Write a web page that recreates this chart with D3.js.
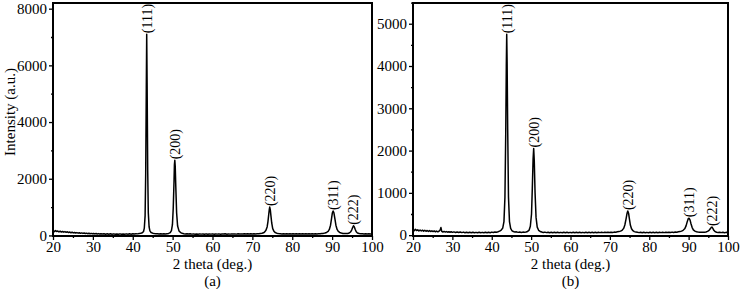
<!DOCTYPE html>
<html>
<head>
<meta charset="utf-8">
<title>XRD patterns</title>
<script src="https://d3js.org/d3.v7.min.js"></script>
<style>
  body { margin: 0; background: #fff; }
  svg text { font-family: "Liberation Serif", "Times New Roman", serif; fill: #000; }
  .trace { fill: none; stroke: #000; stroke-width: 1.5px; stroke-linejoin: round; }
  .frame { fill: none; stroke: #000; stroke-width: 2px; }
  .axis path { display: none; }
  .axis line { stroke: #000; stroke-width: 1.3px; }
</style>
</head>
<body>
<svg width="741" height="289"></svg>
<script>
// ---- data ----
const patternA = [
  [20,160],[20.3,130],[20.6,170],[20.9,140],[21.2,155],[21.5,125],[21.8,150],[22.1,120],[22.4,140],[22.7,115],
  [23,135],[23.3,110],[23.6,128],[23.9,100],[24.2,120],[24.5,95],[24.8,112],[25.1,90],[25.4,105],[25.7,85],
  [26,100],[26.3,80],[26.6,95],[26.9,75],[27.2,90],[27.5,72],[27.8,85],[28.1,68],[28.4,80],[28.7,62],
  [29,78],[29.3,60],[29.6,72],[29.9,58],[30.2,70],[30.5,55],[30.8,68],[31.1,52],[31.4,64],[31.7,50],
  [32,62],[32.4,48],[32.8,60],[33.2,45],[33.6,58],[34,44],[34.4,56],[34.8,42],[35.2,55],[35.6,40],
  [36,54],[36.4,42],[36.8,55],[37.2,40],[37.6,52],[38,42],[38.4,55],[38.8,44],[39.2,56],[39.6,45],
  [40,58],[40.4,48],[40.8,60],[41.2,55],[41.6,66],[42,75],[42.4,95],[42.7,140],[42.9,260],[43.1,700],
  [43.25,2200],[43.4,5200],[43.5,7100],[43.6,5400],[43.75,2300],[43.9,800],[44.1,300],[44.3,160],[44.6,105],[45,80],
  [45.4,68],[45.8,58],[46.2,62],[46.6,52],[47,58],[47.4,50],[47.8,56],[48.2,52],[48.6,62],[49,72],
  [49.4,100],[49.7,170],[49.95,380],[50.15,950],[50.35,1900],[50.45,2500],[50.55,2650],[50.65,2450],[50.8,1700],[51,800],
  [51.25,330],[51.6,160],[52,100],[52.4,75],[52.8,62],[53.2,52],[53.6,58],[54,48],[54.4,56],[54.8,46],
  [55.2,55],[55.6,45],[56,54],[56.4,44],[56.8,55],[57.2,46],[57.6,53],[58,44],[58.4,55],[58.8,45],
  [59.2,54],[59.6,46],[60,55],[60.4,44],[60.8,53],[61.2,46],[61.6,55],[62,45],[62.4,54],[62.8,47],
  [63.2,56],[63.6,45],[64,53],[64.4,46],[64.8,55],[65.2,47],[65.6,54],[66,46],[66.4,56],[66.8,47],
  [67.2,55],[67.6,48],[68,56],[68.4,47],[68.8,57],[69.2,49],[69.6,56],[70,50],[70.4,58],[70.8,52],
  [71.2,60],[71.6,58],[72,66],[72.4,75],[72.8,92],[73.1,125],[73.4,180],[73.7,300],[73.9,480],[74.1,740],
  [74.25,920],[74.35,1000],[74.5,900],[74.65,700],[74.85,440],[75.1,240],[75.4,150],[75.7,105],[76.1,80],[76.5,66],
  [77,58],[77.4,52],[77.8,58],[78.2,50],[78.6,57],[79,48],[79.4,56],[79.8,50],[80.2,58],[80.6,49],
  [81,57],[81.4,50],[81.8,58],[82.2,49],[82.6,57],[83,51],[83.4,59],[83.8,50],[84.2,58],[84.6,52],
  [85,60],[85.4,52],[85.8,59],[86.2,54],[86.6,61],[87,58],[87.4,66],[87.8,72],[88.2,85],[88.6,105],
  [89,140],[89.3,210],[89.6,360],[89.85,590],[90.05,790],[90.25,860],[90.45,800],[90.7,580],[90.95,360],[91.25,210],
  [91.55,140],[91.9,105],[92.3,84],[92.7,72],[93.1,66],[93.5,64],[93.9,70],[94.3,85],[94.6,120],[94.9,190],
  [95.15,280],[95.35,340],[95.55,310],[95.8,210],[96.05,130],[96.35,88],[96.8,66],[97.2,56],[97.6,60],[98,52],
  [98.4,58],[98.8,50],[99.2,57],[99.6,50],[100,55]
];
const patternB = [
  [20,130],[20.3,105],[20.6,140],[20.9,110],[21.2,125],[21.5,100],[21.8,122],[22.1,98],[22.4,118],[22.7,95],
  [23,115],[23.3,92],[23.6,110],[23.9,88],[24.2,108],[24.5,86],[24.8,102],[25.1,84],[25.4,100],[25.7,80],
  [26,96],[26.3,78],[26.6,92],[26.9,120],[27.1,180],[27.3,90],[27.6,75],[27.9,88],[28.2,72],[28.5,85],
  [28.8,70],[29.1,82],[29.4,68],[29.7,80],[30,66],[30.4,78],[30.8,64],[31.2,76],[31.6,62],[32,74],
  [32.4,60],[32.8,72],[33.2,58],[33.6,70],[34,58],[34.4,68],[34.8,56],[35.2,68],[35.6,56],[36,66],
  [36.4,55],[36.8,67],[37.2,56],[37.6,66],[38,55],[38.4,68],[38.8,57],[39.2,70],[39.6,58],[40,72],
  [40.4,62],[40.8,75],[41.2,70],[41.6,82],[42,95],[42.4,120],[42.8,170],[43.1,320],[43.35,900],[43.55,2400],
  [43.7,4000],[43.8,4750],[43.9,4100],[44.05,2500],[44.25,900],[44.5,320],[44.8,160],[45.1,110],[45.5,85],[45.9,72],
  [46.3,78],[46.7,66],[47.1,74],[47.5,64],[47.9,72],[48.3,66],[48.7,76],[49.1,88],[49.5,120],[49.8,210],
  [50.1,500],[50.3,1100],[50.5,1800],[50.65,2050],[50.8,1750],[51,1000],[51.25,420],[51.55,190],[51.9,115],[52.3,88],
  [52.7,74],[53.1,64],[53.5,72],[53.9,60],[54.3,70],[54.7,58],[55.1,68],[55.5,57],[55.9,68],[56.3,56],
  [56.7,67],[57.1,57],[57.5,66],[57.9,56],[58.3,68],[58.7,57],[59.1,67],[59.5,56],[59.9,66],[60.3,57],
  [60.7,68],[61.1,57],[61.5,67],[61.9,58],[62.3,68],[62.7,57],[63.1,66],[63.5,58],[63.9,68],[64.3,57],
  [64.7,67],[65.1,59],[65.5,68],[65.9,58],[66.3,69],[66.7,59],[67.1,68],[67.5,60],[67.9,70],[68.3,60],
  [68.7,69],[69.1,61],[69.5,70],[69.9,62],[70.3,71],[70.7,64],[71.1,72],[71.5,70],[71.9,78],[72.3,84],
  [72.7,95],[73.1,115],[73.5,160],[73.8,240],[74.1,380],[74.35,510],[74.55,570],[74.75,520],[74.95,390],[75.2,240],
  [75.5,150],[75.85,105],[76.2,84],[76.6,72],[77,66],[77.4,60],[77.8,68],[78.2,58],[78.6,67],[79,58],
  [79.4,66],[79.8,57],[80.2,67],[80.6,58],[81,68],[81.4,59],[81.8,67],[82.2,58],[82.6,68],[83,60],
  [83.4,69],[83.8,60],[84.2,70],[84.6,61],[85,70],[85.4,62],[85.8,72],[86.2,64],[86.6,73],[87,70],
  [87.4,78],[87.8,84],[88.2,95],[88.6,115],[89,150],[89.35,220],[89.65,320],[89.9,390],[90.1,400],[90.35,360],
  [90.6,270],[90.9,180],[91.2,125],[91.6,96],[92,82],[92.4,74],[92.8,70],[93.2,66],[93.6,70],[94,68],
  [94.4,76],[94.8,90],[95.2,115],[95.5,150],[95.75,185],[95.95,190],[96.15,160],[96.4,115],[96.7,85],[97.1,70],
  [97.5,64],[97.9,70],[98.3,60],[98.7,68],[99.1,58],[99.5,66],[100,60]
];

const hkl = ["(111)", "(200)", "(220)", "(311)", "(222)"];
const peakPosA = [43.5, 50.55, 74.35, 90.25, 95.35];
const peakTopA = [7100, 2650, 1000, 860, 340];
const peakPosB = [43.8, 50.65, 74.55, 90.1, 95.95];
const peakTopB = [4750, 2050, 570, 400, 190];

const xTicks = [20, 30, 40, 50, 60, 70, 80, 90, 100];
const xMinor = [25, 35, 45, 55, 65, 75, 85, 95];
const yTicksA = [0, 2000, 4000, 6000, 8000];
const yMinorA = [1000, 3000, 5000, 7000];
const yTicksB = [0, 1000, 2000, 3000, 4000, 5000];
const yMinorB = [500, 1500, 2500, 3500, 4500, 5500];

const svg = d3.select("svg");

const panel = (cfg) => {
  const x = d3.scaleLinear().domain([20, 100]).range([cfg.left, cfg.right]);
  const y = d3.scaleLinear().domain(cfg.yDomain).range([236, 3]);
  const g = svg.append("g");

  const clipId = "clip" + cfg.name;
  g.append("clipPath").attr("id", clipId)
    .append("rect")
    .attr("x", cfg.left).attr("y", 3)
    .attr("width", cfg.right - cfg.left).attr("height", 233);

  g.append("path")
    .datum(cfg.data)
    .attr("class", "trace")
    .attr("clip-path", `url(#${clipId})`)
    .attr("d", d3.line().x(d => x(d[0])).y(d => y(d[1])));

  // axes
  g.append("g").attr("class", "axis")
    .attr("transform", "translate(0,236)")
    .call(d3.axisBottom(x).tickValues(xTicks).tickSize(4).tickPadding(1).tickFormat(d3.format("d")))
    .call(a => a.selectAll("text").style("font-size", "15px"));
  g.append("g").attr("class", "axis")
    .attr("transform", "translate(0,236)")
    .call(d3.axisBottom(x).tickValues(xMinor).tickSize(2).tickFormat(""));
  g.append("g").attr("class", "axis")
    .attr("transform", `translate(${cfg.left},0)`)
    .call(d3.axisLeft(y).tickValues(cfg.yTicks).tickSize(4).tickPadding(2).tickFormat(d3.format("d")))
    .call(a => a.selectAll("text").style("font-size", "15px"));
  g.append("g").attr("class", "axis")
    .attr("transform", `translate(${cfg.left},0)`)
    .call(d3.axisLeft(y).tickValues(cfg.yMinor).tickSize(2).tickFormat(""));

  g.append("rect").attr("class", "frame")
    .attr("x", cfg.left).attr("y", 3)
    .attr("width", cfg.right - cfg.left).attr("height", 233);

  // peak labels
  g.selectAll(".hkl")
    .data(hkl)
    .join("text")
    .attr("class", "hkl")
    .attr("transform", (d, i) => `translate(${x(cfg.pos[i])},${y(cfg.top[i]) - 1}) rotate(-90)`)
    .attr("dy", "0.35em")
    .style("font-size", "14px")
    .text(d => d);

  const cx = (cfg.left + cfg.right) / 2;
  g.append("text")
    .attr("x", cx).attr("y", 269)
    .attr("text-anchor", "middle")
    .style("font-size", "15px")
    .text("2 theta (deg.)");
  g.append("text")
    .attr("x", cx).attr("y", 286)
    .attr("text-anchor", "middle")
    .style("font-size", "15px")
    .text(cfg.tag);
};

panel({ name: "a", left: 53, right: 372, yDomain: [-20, 8200], data: patternA,
        yTicks: yTicksA, yMinor: yMinorA, pos: peakPosA, top: peakTopA, tag: "(a)" });
panel({ name: "b", left: 413, right: 728, yDomain: [-20, 5490], data: patternB,
        yTicks: yTicksB, yMinor: yMinorB, pos: peakPosB, top: peakTopB, tag: "(b)" });

svg.append("text")
  .attr("transform", "translate(15,112) rotate(-90)")
  .attr("text-anchor", "middle")
  .style("font-size", "15px")
  .text("Intensity (a.u.)");
</script>
</body>
</html>
